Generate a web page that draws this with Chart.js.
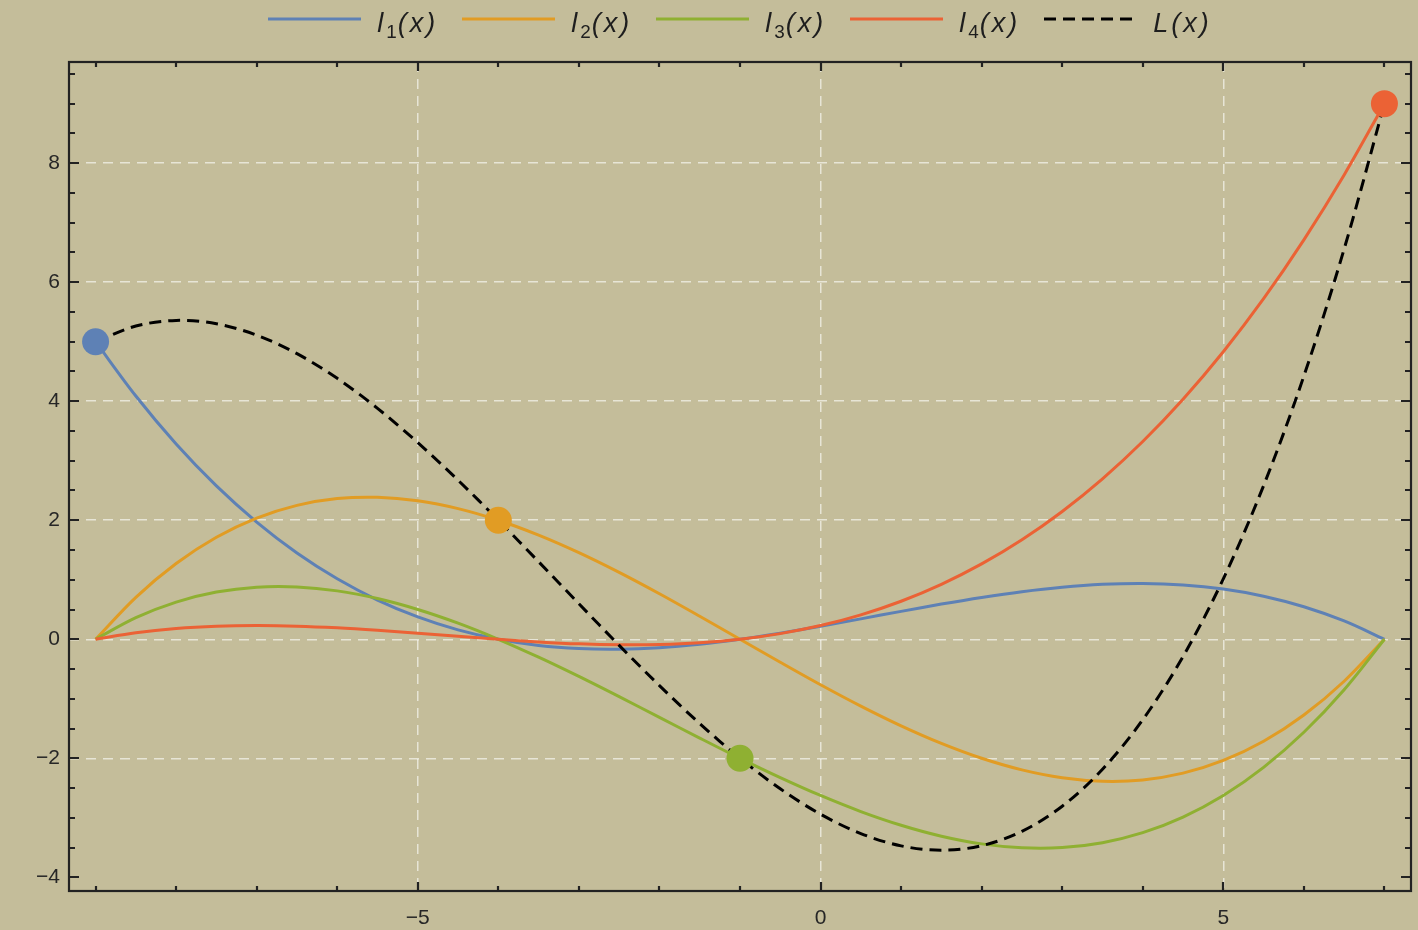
<!DOCTYPE html>
<html>
<head>
<meta charset="utf-8">
<title>Lagrange basis polynomials</title>
<script src="https://cdn.jsdelivr.net/npm/chart.js@4.4.1/dist/chart.umd.min.js"></script>
<style>
  html, body { margin: 0; padding: 0; background: #c4bd9a; }
  #wrap { position: relative; width: 1418px; height: 930px; overflow: hidden; }
  #legend {
    position: absolute; left: 69px; top: 0; width: 1342px; height: 46px;
    display: flex; justify-content: center; align-items: center; gap: 24px;
    font: italic 27px "Liberation Sans", Arial, sans-serif; color: #1e1e1e;
    letter-spacing: 3px;
  }
  .item { display: flex; align-items: center; }
  .item svg { margin-right: 16px; position: relative; top: -4px; }
  sub { font-size: 0.7em; font-style: normal; vertical-align: -0.3em; letter-spacing: 1px; line-height: 0; }
  canvas { position: absolute; left: 0; top: 0; }
</style>
</head>
<body>
<div id="wrap">
  <canvas id="chart" width="1418" height="930"></canvas>
  <div id="legend"></div>
</div>
<script>
// Sample abscissae
const xs = [-9, -8.5, -8, -7.5, -7, -6.5, -6, -5.5, -5, -4.5, -4, -3.5, -3, -2.5, -2, -1.5, -1,
            -0.5, 0, 0.5, 1, 1.5, 2, 2.5, 3, 3.5, 4, 4.5, 5, 5.5, 6, 6.5, 7];

// Weighted basis polynomials l1..l4 and their sum L
const l1 = [5, 4.087, 3.281, 2.577, 1.969, 1.450, 1.016, 0.659, 0.375, 0.157, 0, -0.103, -0.156, -0.167,
            -0.141, -0.083, 0, 0.103, 0.219, 0.343, 0.469, 0.591, 0.703, 0.800, 0.875, 0.923, 0.938,
            0.913, 0.844, 0.724, 0.547, 0.308, 0];
const l2 = [0, 0.705, 1.273, 1.714, 2.036, 2.250, 2.364, 2.386, 2.327, 2.195, 2, 1.750, 1.455, 1.123,
            0.764, 0.386, 0, -0.386, -0.764, -1.123, -1.455, -1.750, -2, -2.195, -2.327, -2.386, -2.364,
            -2.250, -2.036, -1.714, -1.273, -0.705, 0];
const l3 = [0, 0.363, 0.625, 0.793, 0.875, 0.879, 0.813, 0.684, 0.500, 0.270, 0, -0.301, -0.625, -0.965,
            -1.313, -1.660, -2, -2.324, -2.625, -2.895, -3.125, -3.309, -3.438, -3.504, -3.500, -3.418,
            -3.250, -2.988, -2.625, -2.152, -1.563, -0.848, 0];
const l4 = [0, 0.108, 0.179, 0.218, 0.230, 0.220, 0.192, 0.151, 0.102, 0.050, 0, -0.044, -0.077, -0.093,
            -0.089, -0.060, 0, 0.095, 0.230, 0.410, 0.639, 0.923, 1.266, 1.672, 2.148, 2.697, 3.324,
            4.034, 4.832, 5.723, 6.712, 7.802, 9];
const L  = [5, 5.263, 5.358, 5.302, 5.110, 4.799, 4.384, 3.880, 3.305, 2.673, 2, 1.303, 0.597, -0.103,
            -0.779, -1.417, -2, -2.513, -2.940, -3.265, -3.472, -3.545, -3.469, -3.227, -2.805, -2.185,
            -1.352, -0.291, 1.015, 2.581, 4.423, 6.558, 9];

// Interpolation nodes
const nodeX = [-9, -4, -1, 7];
const nodeY = [5, 2, -2, 9];

// Axis tick labels
const xTickValues = [-5, 0, 5];
const yTickValues = [-4, -2, 0, 2, 4, 6, 8];

const seriesNames = ['l|1', 'l|2', 'l|3', 'l|4', 'L'];
const colors = ['#5e81b5', '#e19c24', '#8fb032', '#eb6235', '#000000'];

const pts = ys => xs.map((x, i) => ({ x: x, y: ys[i] }));
const minus = v => (v < 0 ? '\u2212' : '') + Math.abs(v);

// Inward ticks on all four sides plus the frame
const framePlugin = {
  id: 'frame',
  afterDraw(chart) {
    const { ctx, chartArea: a, scales: { x, y } } = chart;
    ctx.save();
    ctx.strokeStyle = '#222';
    ctx.lineWidth = 2.2;
    ctx.beginPath();
    for (let v = Math.ceil(x.min); v <= x.max; v++) {
      const p = Math.round(x.getPixelForValue(v));
      const len = v % 5 === 0 ? 9 : 5;
      ctx.moveTo(p, a.bottom); ctx.lineTo(p, a.bottom - len);
      ctx.moveTo(p, a.top); ctx.lineTo(p, a.top + len);
    }
    for (let v = Math.ceil(y.min * 2) / 2; v <= y.max; v += 0.5) {
      const p = Math.round(y.getPixelForValue(v));
      const len = v % 2 === 0 ? 10 : 6;
      ctx.moveTo(a.left, p); ctx.lineTo(a.left + len, p);
      ctx.moveTo(a.right, p); ctx.lineTo(a.right - len, p);
    }
    ctx.stroke();
    ctx.strokeRect(a.left, a.top, a.right - a.left, a.bottom - a.top);
    ctx.restore();
  }
};

const lineStyle = (label, ys, color, order, dash) => ({
  label: label,
  data: pts(ys),
  showLine: true,
  borderColor: color,
  backgroundColor: color,
  borderWidth: 3,
  borderDash: dash || [],
  pointRadius: 0,
  tension: 0.33,
  fill: false,
  order: order
});

new Chart(document.getElementById('chart'), {
  type: 'scatter',
  data: {
    datasets: [
      {
        label: 'nodes',
        data: nodeX.map((x, i) => ({ x: x, y: nodeY[i] })),
        pointRadius: 13.5,
        pointBackgroundColor: colors.slice(0, 4),
        pointBorderWidth: 0,
        showLine: false,
        order: 0
      },
      lineStyle('L(x)', L, colors[4], 1, [12, 7]),
      lineStyle('l4(x)', l4, colors[3], 2),
      lineStyle('l3(x)', l3, colors[2], 3),
      lineStyle('l2(x)', l2, colors[1], 4),
      lineStyle('l1(x)', l1, colors[0], 5)
    ]
  },
  options: {
    responsive: false,
    animation: false,
    layout: { autoPadding: false, padding: { top: 62, right: 7, left: 0, bottom: 0 } },
    plugins: { legend: { display: false }, tooltip: { enabled: false } },
    scales: {
      x: {
        type: 'linear',
        min: -9.33, max: 7.33,
        afterBuildTicks: s => { s.ticks = xTickValues.map(v => ({ value: v })); },
        afterFit: s => { s.height = 39; s.paddingLeft = 0; s.paddingRight = 0; },
        ticks: {
          callback: v => minus(v), color: '#262626', padding: 15, maxRotation: 0, autoSkip: false,
          font: { family: '"Liberation Sans", Arial, sans-serif', size: 21 }
        },
        grid: { color: 'rgba(255,255,255,0.6)', lineWidth: 1.5, drawTicks: false },
        border: { display: false, dash: [10, 7] }
      },
      y: {
        type: 'linear',
        min: -4.23, max: 9.70,
        afterBuildTicks: s => { s.ticks = yTickValues.map(v => ({ value: v })); },
        afterFit: s => { s.width = 69; s.paddingTop = 0; s.paddingBottom = 0; },
        ticks: {
          callback: v => minus(v), color: '#262626', padding: 9, autoSkip: false,
          font: { family: '"Liberation Sans", Arial, sans-serif', size: 21 }
        },
        grid: {
          color: c => (c.tick && c.tick.value === -4) ? 'rgba(0,0,0,0)' : 'rgba(255,255,255,0.6)',
          lineWidth: 1.5, drawTicks: false
        },
        border: { display: false, dash: [10, 7] }
      }
    }
  },
  plugins: [framePlugin]
});

// Legend row: line sample followed by the series name
const legend = document.getElementById('legend');
seriesNames.forEach((name, i) => {
  const item = document.createElement('div');
  item.className = 'item';
  const dash = i === 4 ? ' stroke-dasharray="12 7"' : '';
  item.innerHTML = '<svg width="93" height="4"><line x1="0" y1="2" x2="93" y2="2" stroke="' +
    colors[i] + '" stroke-width="3"' + dash + '/></svg>';
  const text = document.createElement('span');
  const parts = name.split('|');
  text.innerHTML = parts.length > 1 ? parts[0] + '<sub>' + parts[1] + '</sub>(x)' : parts[0] + '(x)';
  item.appendChild(text);
  legend.appendChild(item);
});
</script>
</body>
</html>
